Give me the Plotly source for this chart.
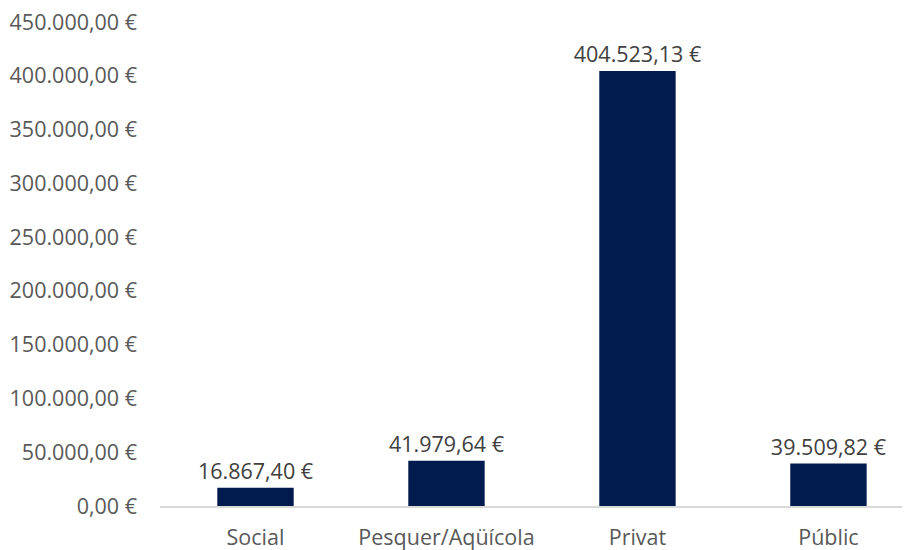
import plotly.graph_objects as go

categories = ["Social", "Pesquer/Aqüícola", "Privat", "Públic"]
values = [16867.40, 41979.64, 404523.13, 39509.82]
tick_values = [0, 50000, 100000, 150000, 200000, 250000, 300000, 350000, 400000, 450000]


def eur(v):
    s = f"{v:,.2f}".replace(",", "X").replace(".", ",").replace("X", ".")
    return s + " €"


tick_labels = [eur(v) for v in tick_values]
bar_labels = [eur(v) for v in values]

FONT = "Open Sans, Liberation Sans, sans-serif"
GREY = "#595959"
SIZE = 21.5

fig = go.Figure(
    go.Bar(
        x=categories,
        y=values,
        text=bar_labels,
        textposition="outside",
        constraintext="none",
        textfont=dict(family=FONT, size=SIZE, color="#404040"),
        marker=dict(color="#011B4E", line=dict(width=0)),
        width=0.4,
        cliponaxis=False,
    )
)

# page has an 8px body margin, so margins are compensated accordingly
fig.update_layout(
    width=910,
    height=550,
    margin=dict(l=152, r=8, t=14, b=52),
    paper_bgcolor="white",
    plot_bgcolor="white",
    showlegend=False,
    font=dict(family=FONT, size=SIZE, color=GREY),
)
fig.update_xaxes(
    range=[-0.5, 3.427],
    automargin=False,
    showgrid=False,
    showline=True,
    linecolor="#D9D9D9",
    linewidth=1.5,
    ticks="",
    ticklabelstandoff=11,
    tickfont=dict(family=FONT, size=SIZE, color=GREY),
)
fig.update_yaxes(
    range=[0, 450000],
    automargin=False,
    tickvals=tick_values,
    ticktext=tick_labels,
    showgrid=False,
    zeroline=False,
    showline=False,
    ticks="",
    ticklabelstandoff=22,
    ticklabeloverflow="allow",
    tickfont=dict(family=FONT, size=SIZE, color=GREY),
)

fig.write_html("out.html")
